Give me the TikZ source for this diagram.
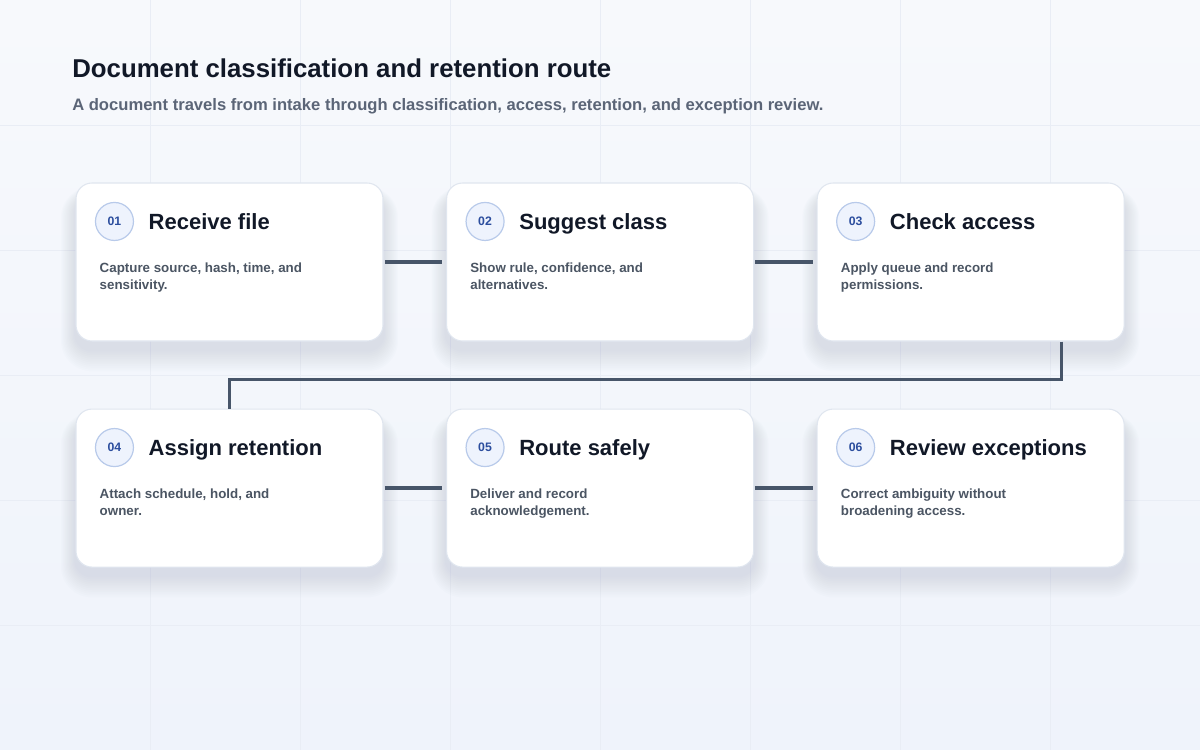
\documentclass[tikz,border=0pt]{standalone}
\usepackage{fontspec}
\setmainfont{Liberation Sans}
\usetikzlibrary{positioning, calc, backgrounds}
\definecolor{bgtop}{HTML}{F7F9FC}
\definecolor{bgbottom}{HTML}{EFF3FB}
\definecolor{gridline}{HTML}{E9EDF5}
\definecolor{ink}{HTML}{111827}
\definecolor{slate1}{HTML}{5B6577}
\definecolor{slate2}{HTML}{4B5563}
\definecolor{wirecol}{HTML}{475569}
\definecolor{badgefill}{HTML}{EEF3FD}
\definecolor{badgeline}{HTML}{B8CAEA}
\definecolor{badgetext}{HTML}{2C4E9E}
\definecolor{cardline}{HTML}{E0E6EF}
\definecolor{shadowcol}{HTML}{8A9AB8}

\begin{document}
\begin{tikzpicture}[x=0.75pt, y=-0.75pt,
  card/.style={draw=cardline, line width=0.8pt, fill=white, rounded corners=12pt,
    minimum width=230.25pt, minimum height=118.5pt},
  badge/.style={circle, draw=badgeline, fill=badgefill, line width=0.9pt, minimum size=28.5pt,
    inner sep=0pt, font=\bfseries\fontsize{9.2}{9}\selectfont, text=badgetext},
  cardtitle/.style={anchor=base west, inner sep=0pt, font=\bfseries\fontsize{16.5}{20}\selectfont, text=ink},
  carddesc/.style={anchor=north west, inner sep=0pt, align=left,
    font=\bfseries\fontsize{10}{12.75}\selectfont, text=slate2},
  link/.style={draw=wirecol, line width=2.7pt}
]
  \useasboundingbox (0,0) rectangle (1200,750);

  % header
  \node[anchor=base west, inner sep=0pt, font=\bfseries\fontsize{19.35}{24}\selectfont, text=ink]
    (title) at (72,77) {Document classification and retention route};
  \node[anchor=base west, inner sep=0pt, font=\bfseries\fontsize{12.45}{15}\selectfont, text=slate1]
    (subtitle) at (72,110) {A document travels from intake through classification, access, retention, and exception review.};

  % cards
  \node[card] (c1) at (229.5,262) {};
  \node[card, right=46.9pt of c1] (c2) {};
  \node[card, right=46.9pt of c2] (c3) {};
  \node[card, below=50.25pt of c1] (c4) {};
  \node[card, right=46.9pt of c4] (c5) {};
  \node[card, right=46.9pt of c5] (c6) {};

  \foreach \c/\num/\head/\desc in {
    c1/01/Receive file/{Capture source, hash, time, and\\sensitivity.},
    c2/02/Suggest class/{Show rule, confidence, and\\alternatives.},
    c3/03/Check access/{Apply queue and record\\permissions.},
    c4/04/Assign retention/{Attach schedule, hold, and\\owner.},
    c5/05/Route safely/{Deliver and record\\acknowledgement.},
    c6/06/Review exceptions/{Correct ambiguity without\\broadening access.}} {
    \node[badge] (\c-num) at ($(\c.north west)+(39,39)$) {\num};
    \node[cardtitle] (\c-head) at ($(\c.north west)+(73,47)$) {\head};
    \node[carddesc] (\c-desc) at ($(\c.north west)+(24,80.5)$) {\desc};
  }

  % connectors
  \draw[link, shorten <=1pt, shorten >=3pt] (c1) -- (c2);
  \draw[link, shorten <=1pt, shorten >=3pt] (c2) -- (c3);
  \coordinate (c3-out) at ($(c3.south west)!0.795!(c3.south east)$);
  \draw[link] (c3-out) -- ++(0,38) -| (c4.north);
  \draw[link, shorten <=1pt, shorten >=3pt] (c4) -- (c5);
  \draw[link, shorten <=1pt, shorten >=3pt] (c5) -- (c6);

  % background, grid and soft card shadows
  \begin{scope}[on background layer]
    \fill[top color=bgtop, bottom color=bgbottom] (0,0) rectangle (1200,750);
    \foreach \gx in {150,300,...,1050}
      \draw[gridline, line width=0.75pt] (\gx,0) -- (\gx,750);
    \foreach \gy in {125,250,...,625}
      \draw[gridline, line width=0.75pt] (0,\gy) -- (1200,\gy);
    \foreach \c in {c1,c2,c3,c4,c5,c6}
      \foreach \s in {2,4,...,24} {
        \pgfmathsetmacro\rr{12+0.45*\s}
        \fill[shadowcol, opacity=0.02, rounded corners=\rr pt]
          ($(\c.north west)+(-0.6*\s,-0.4*\s+14)$) rectangle ($(\c.south east)+(0.6*\s,0.9*\s+8)$);
      }
  \end{scope}
\end{tikzpicture}
\end{document}
